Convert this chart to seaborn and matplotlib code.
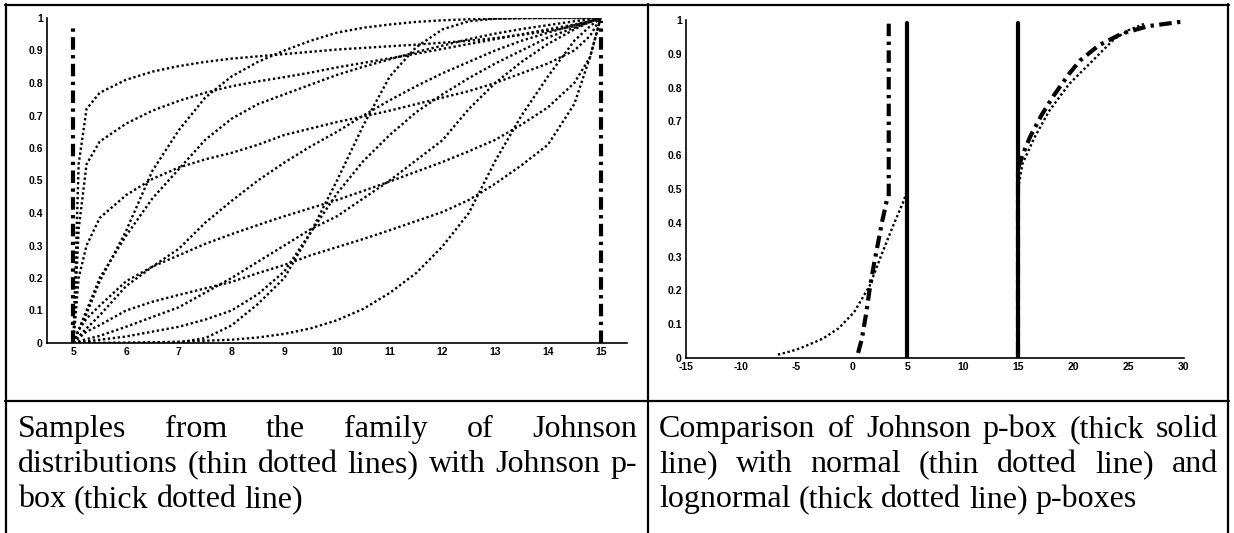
import matplotlib
matplotlib.use("Agg")
import matplotlib.pyplot as plt
import pandas as pd
import seaborn as sns
from matplotlib.lines import Line2D

# ---------------- data ----------------
# left panel: sampled Johnson CDFs on a common grid between the p-box bounds
X_GRID = [5, 5.1, 5.25, 5.5, 6, 6.5, 7, 7.5, 8, 8.5, 9, 9.5, 10, 10.5,
          11, 11.5, 12, 12.5, 13, 13.5, 14, 14.5, 14.8, 15]

SAMPLE_01 = [0, 0.55, 0.72, 0.77, 0.81, 0.835, 0.852, 0.865, 0.875, 0.882, 0.889, 0.896,
             0.903, 0.908, 0.913, 0.918, 0.924, 0.93, 0.938, 0.948, 0.96, 0.975, 0.99, 1]
SAMPLE_02 = [0, 0.04, 0.09, 0.19, 0.345, 0.53, 0.655, 0.755, 0.82, 0.865, 0.9, 0.93,
             0.955, 0.97, 0.98, 0.988, 0.993, 0.996, 0.998, 0.999, 1, 1, 1, 1]
SAMPLE_03 = [0, 0.35, 0.55, 0.62, 0.675, 0.715, 0.745, 0.77, 0.79, 0.805, 0.818, 0.832,
             0.848, 0.862, 0.876, 0.89, 0.905, 0.92, 0.935, 0.95, 0.965, 0.98, 0.99, 1]
SAMPLE_04 = [0, 0.04, 0.1, 0.2, 0.33, 0.445, 0.535, 0.625, 0.69, 0.735, 0.765, 0.795,
             0.825, 0.85, 0.873, 0.895, 0.915, 0.935, 0.952, 0.966, 0.978, 0.99, 0.996, 1]
SAMPLE_05 = [0, 0.2, 0.3, 0.385, 0.455, 0.505, 0.54, 0.565, 0.585, 0.61, 0.64, 0.66,
             0.68, 0.697, 0.715, 0.735, 0.755, 0.775, 0.8, 0.83, 0.86, 0.9, 0.945, 1]
SAMPLE_06 = [0, 0.02, 0.045, 0.085, 0.175, 0.235, 0.29, 0.37, 0.437, 0.5, 0.555, 0.605,
             0.65, 0.7, 0.747, 0.79, 0.83, 0.865, 0.9, 0.93, 0.955, 0.978, 0.99, 1]
SAMPLE_07 = [0, 0.04, 0.075, 0.115, 0.19, 0.235, 0.27, 0.305, 0.335, 0.363, 0.39, 0.415,
             0.44, 0.468, 0.497, 0.527, 0.557, 0.59, 0.625, 0.672, 0.725, 0.8, 0.88, 1]
SAMPLE_08 = [0, 0.015, 0.035, 0.055, 0.1, 0.127, 0.148, 0.168, 0.188, 0.215, 0.24, 0.27,
             0.295, 0.32, 0.347, 0.375, 0.403, 0.44, 0.49, 0.547, 0.61, 0.735, 0.88, 1]
SAMPLE_09 = [0, 0.005, 0.012, 0.022, 0.05, 0.08, 0.11, 0.155, 0.2, 0.25, 0.3, 0.35,
             0.39, 0.445, 0.5, 0.562, 0.624, 0.72, 0.8, 0.865, 0.92, 0.965, 0.988, 1]
SAMPLE_10 = [0, 0, 0, 0, 0, 0.001, 0.002, 0.015, 0.054, 0.12, 0.2, 0.34,
             0.5, 0.67, 0.82, 0.91, 0.965, 0.99, 0.998, 1, 1, 1, 1, 1]
SAMPLE_11 = [0, 0, 0, 0, 0.001, 0.002, 0.004, 0.007, 0.01, 0.017, 0.028, 0.045,
             0.07, 0.105, 0.154, 0.215, 0.297, 0.4, 0.56, 0.7, 0.82, 0.93, 0.975, 1]
SAMPLE_12 = [0, 0.002, 0.005, 0.01, 0.02, 0.035, 0.05, 0.072, 0.1, 0.15, 0.22, 0.34,
             0.46, 0.56, 0.64, 0.71, 0.765, 0.815, 0.86, 0.9, 0.94, 0.97, 0.988, 1]

# Johnson p-box bounds (left panel)
PBOX_X = [5, 15]
PBOX_TOP = [0.975, 0.99]

# right panel: Johnson p-box edges
JOHNSON_X = [5, 15]
JOHNSON_TOP = [0.992, 0.992]

# normal p-box
NORMAL_LEFT_X = [-6.7, -5.5, -4.6, -3.5, -2.6, -1.2, 0.2, 1.6, 2.6, 3.7, 4.7, 5.0]
NORMAL_LEFT_P = [0.01, 0.02, 0.03, 0.045, 0.058, 0.088, 0.136, 0.214, 0.30, 0.39, 0.467, 0.5]
NORMAL_RIGHT_X = [15, 15.4, 16.45, 17.8, 19.6, 21.6, 23.7, 25.0, 26.5]
NORMAL_RIGHT_P = [0.5, 0.574, 0.65, 0.73, 0.81, 0.875, 0.944, 0.97, 0.99]

# lognormal p-box
LOGN_LEFT_X = [0.55, 0.9, 1.25, 1.6, 2.0, 2.35, 2.7, 3.15, 3.32, 3.32]
LOGN_LEFT_P = [0.015, 0.058, 0.126, 0.204, 0.28, 0.34, 0.40, 0.467, 0.477, 0.99]
LOGN_RIGHT_X = [15, 15, 15.4, 16.1, 17.15, 18.2, 19.6, 20.6, 22.3, 24.4, 26.8, 29.8]
LOGN_RIGHT_P = [0.01, 0.56, 0.6, 0.655, 0.72, 0.775, 0.84, 0.88, 0.925, 0.96, 0.982, 0.995]

LEFT_XTICKS = list(range(5, 16))
RIGHT_XTICKS = list(range(-15, 31, 5))
P_TICKS = [0, 0.1, 0.2, 0.3, 0.4, 0.5, 0.6, 0.7, 0.8, 0.9, 1]
P_LABELS = ["0", "0.1", "0.2", "0.3", "0.4", "0.5", "0.6", "0.7", "0.8", "0.9", "1"]

CAPTION_LEFT = ["Samples from the family of Johnson",
                "distributions (thin dotted lines) with Johnson p-",
                "box (thick dotted line)"]
CAPTION_RIGHT = ["Comparison of Johnson p-box (thick solid",
                 "line) with normal (thin dotted line) and",
                 "lognormal (thick dotted line) p-boxes"]

# ---------------- figure ----------------
sns.set_theme(style="white")
plt.rcParams['font.family'] = ['Liberation Sans', 'DejaVu Sans']

W, H = 1234, 533
fig = plt.figure(figsize=(W / 100, H / 100), dpi=100)


def px_rect(left, top, right, bottom):
    return [left / W, 1 - bottom / H, (right - left) / W, (bottom - top) / H]


DOTTED = (0, (1, 1.1))
DASHDOT = (0, (3, 1.3, 0.8, 1.3))


def style_axes(ax, xticks, xlim):
    ax.set_xlim(*xlim)
    ax.set_ylim(0, 1)
    ax.set_xticks(xticks)
    ax.set_xticklabels([str(t) for t in xticks])
    ax.set_yticks(P_TICKS)
    ax.set_yticklabels(P_LABELS)
    ax.set_xlabel("")
    ax.set_ylabel("")
    sns.despine(ax=ax)
    for s in ("left", "bottom"):
        ax.spines[s].set_color("black")
        ax.spines[s].set_linewidth(1.2)
    ax.tick_params(direction="in", length=4, width=0.8, color="black",
                   labelsize=7.5, pad=3, labelcolor="black")
    for lab in ax.get_xticklabels() + ax.get_yticklabels():
        lab.set_fontweight("bold")
    ax.patch.set_alpha(0)


# left panel
ax1 = fig.add_axes(px_rect(47, 18, 627, 343))
samples = [SAMPLE_01, SAMPLE_02, SAMPLE_03, SAMPLE_04, SAMPLE_05, SAMPLE_06,
           SAMPLE_07, SAMPLE_08, SAMPLE_09, SAMPLE_10, SAMPLE_11, SAMPLE_12]
rows = []
for k, s in enumerate(samples):
    for x, p in zip(X_GRID, s):
        rows.append({"x": x, "p": p, "curve": k})
df_samples = pd.DataFrame(rows)
sns.lineplot(data=df_samples, x="x", y="p", units="curve", estimator=None, sort=False,
             color="black", lw=1.7, linestyle=DOTTED, ax=ax1, legend=False)

pbox_rows = []
for k, (x, top) in enumerate(zip(PBOX_X, PBOX_TOP)):
    pbox_rows += [{"x": x, "p": 0.0, "edge": k}, {"x": x, "p": top, "edge": k}]
sns.lineplot(data=pd.DataFrame(pbox_rows), x="x", y="p", units="edge", estimator=None,
             sort=False, color="black", lw=3, linestyle=DASHDOT, ax=ax1, legend=False)
style_axes(ax1, LEFT_XTICKS, (4.5, 15.5))

# right panel
ax2 = fig.add_axes(px_rect(686, 20, 1184, 358))
john_rows = []
for k, (x, top) in enumerate(zip(JOHNSON_X, JOHNSON_TOP)):
    john_rows += [{"x": x, "p": 0.0, "edge": k}, {"x": x, "p": top, "edge": k}]
sns.lineplot(data=pd.DataFrame(john_rows), x="x", y="p", units="edge", estimator=None,
             sort=False, color="black", lw=3, ax=ax2, legend=False)

norm_rows = ([{"x": x, "p": p, "edge": 0} for x, p in zip(NORMAL_LEFT_X, NORMAL_LEFT_P)] +
             [{"x": x, "p": p, "edge": 1} for x, p in zip(NORMAL_RIGHT_X, NORMAL_RIGHT_P)])
sns.lineplot(data=pd.DataFrame(norm_rows), x="x", y="p", units="edge", estimator=None,
             sort=False, color="black", lw=1.7, linestyle=DOTTED, ax=ax2, legend=False)

logn_rows = ([{"x": x, "p": p, "edge": 0} for x, p in zip(LOGN_LEFT_X, LOGN_LEFT_P)] +
             [{"x": x, "p": p, "edge": 1} for x, p in zip(LOGN_RIGHT_X, LOGN_RIGHT_P)])
sns.lineplot(data=pd.DataFrame(logn_rows), x="x", y="p", units="edge", estimator=None,
             sort=False, color="black", lw=3, linestyle=DASHDOT, ax=ax2, legend=False)
style_axes(ax2, RIGHT_XTICKS, (-15, 30))

# ---------------- table frame ----------------
FRAME_LW = 1.6


def hline(y, x0, x1):
    fig.add_artist(Line2D([x0 / W, x1 / W], [1 - y / H, 1 - y / H],
                          transform=fig.transFigure, color="black", lw=FRAME_LW))


def vline(x, y0, y1):
    fig.add_artist(Line2D([x / W, x / W], [1 - y0 / H, 1 - y1 / H],
                          transform=fig.transFigure, color="black", lw=FRAME_LW))


hline(5, 5, 1229)
hline(401, 5, 1229)
vline(6, 4, 533)
vline(648, 4, 533)
vline(1228, 4, 533)

# ---------------- captions ----------------
CAP_SIZE = 23
renderer = fig.canvas.get_renderer()


def place_line(text, x0, x1, baseline, justify):
    words = text.split(" ")
    arts = [fig.text(0, 0, w, fontsize=CAP_SIZE, family="Liberation Serif",
                     va="baseline", ha="left", color="black") for w in words]
    widths = [a.get_window_extent(renderer).width for a in arts]
    if justify and len(words) > 1:
        gap = (x1 - x0 - sum(widths)) / (len(words) - 1)
    else:
        gap = 0.25 * CAP_SIZE * 100 / 72
    x = x0
    for a, w in zip(arts, widths):
        a.set_position((x / W, 1 - baseline / H))
        x += w + gap


BASELINES = [437, 472, 507]
for i, line in enumerate(CAPTION_LEFT):
    place_line(line, 18, 637, BASELINES[i], justify=(i < 2))
for i, line in enumerate(CAPTION_RIGHT):
    place_line(line, 659, 1218, BASELINES[i], justify=(i < 2))

fig.savefig("out.png", dpi=100)
